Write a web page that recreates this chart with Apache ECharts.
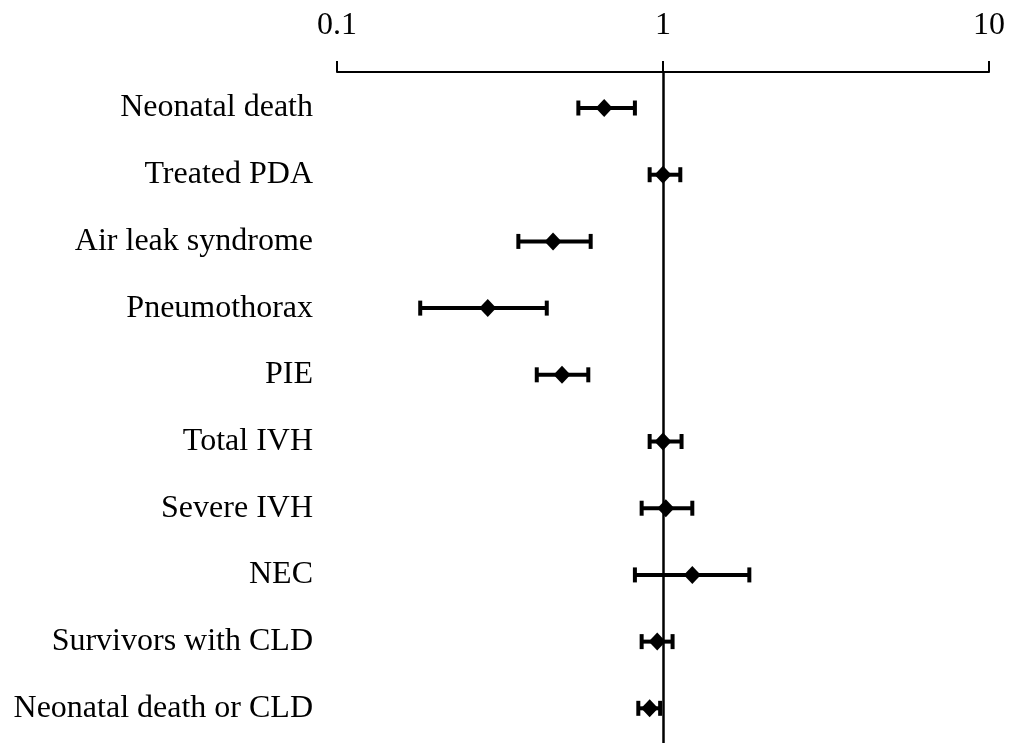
<!DOCTYPE html>
<html>
<head>
<meta charset="utf-8">
<title>Odds ratios with 95% CI</title>
<script src="https://cdn.jsdelivr.net/npm/echarts@6/dist/echarts.min.js"></script>
<style>
  html, body { margin: 0; padding: 0; background: #fff; }
  #chart { width: 1009px; height: 745px; }
</style>
</head>
<body>
<div id="chart"></div>
<script>
// Outcomes, top to bottom
const outcomes = [
  'Neonatal death',
  'Treated PDA',
  'Air leak syndrome',
  'Pneumothorax',
  'PIE',
  'Total IVH',
  'Severe IVH',
  'NEC',
  'Survivors with CLD',
  'Neonatal death or CLD'
];
// Point estimates and confidence limits (log-scaled axis)
const estimate = [0.66, 1.00, 0.46, 0.29, 0.49, 1.00, 1.02, 1.23, 0.96, 0.91];
const lower    = [0.55, 0.91, 0.36, 0.18, 0.41, 0.91, 0.86, 0.82, 0.86, 0.84];
const upper    = [0.82, 1.13, 0.60, 0.44, 0.59, 1.14, 1.23, 1.84, 1.07, 0.98];
const xTicks   = [0.1, 1, 10];

const serif = 'Liberation Serif, "Times New Roman", serif';

const intervals = outcomes.map((_, i) => [lower[i], upper[i], i]);
const points = outcomes.map((_, i) => [estimate[i], i]);

const chart = echarts.init(document.getElementById('chart'), null, { renderer: 'canvas' });

chart.setOption({
  animation: false,
  backgroundColor: '#fff',
  grid: { left: 337, right: 20, top: 72, bottom: 2, containLabel: false },
  xAxis: {
    type: 'log',
    logBase: 10,
    min: xTicks[0],
    max: xTicks[xTicks.length - 1],
    position: 'top',
    axisLine: { show: true, onZero: false, lineStyle: { color: '#000', width: 2 } },
    axisTick: { show: true, inside: false, length: 11, lineStyle: { color: '#000', width: 2 } },
    axisLabel: {
      color: '#000',
      fontFamily: serif,
      fontSize: 32,
      margin: 30,
      formatter: v => String(+(+v).toPrecision(3))
    },
    splitLine: { show: false },
    minorTick: { show: false }
  },
  yAxis: {
    type: 'value',
    inverse: true,
    min: -0.54,
    max: 9.52,
    axisLine: { show: false },
    axisTick: { show: false },
    splitLine: { show: false },
    axisLabel: {
      customValues: outcomes.map((_, i) => i),
      formatter: v => outcomes[Math.round(v)] || '',
      color: '#000',
      fontFamily: serif,
      fontSize: 32,
      margin: 24
    }
  },
  series: [
    {
      type: 'custom',
      data: intervals,
      encode: { x: [0, 1], y: 2 },
      silent: true,
      renderItem(params, api) {
        const a = api.coord([api.value(0), api.value(2)]);
        const b = api.coord([api.value(1), api.value(2)]);
        const half = 7.5;
        const style = { stroke: '#000', lineWidth: 4, fill: null };
        return {
          type: 'group',
          children: [
            { type: 'line', shape: { x1: a[0], y1: a[1], x2: b[0], y2: b[1] }, style },
            { type: 'line', shape: { x1: a[0], y1: a[1] - half, x2: a[0], y2: a[1] + half }, style },
            { type: 'line', shape: { x1: b[0], y1: b[1] - half, x2: b[0], y2: b[1] + half }, style }
          ]
        };
      },
      z: 3
    },
    {
      type: 'scatter',
      data: points,
      symbol: 'diamond',
      symbolSize: [17, 18],
      itemStyle: { color: '#000', opacity: 1 },
      silent: true,
      z: 4,
      markLine: {
        silent: true,
        symbol: 'none',
        label: { show: false },
        lineStyle: { color: '#000', width: 2.5, type: 'solid', opacity: 1 },
        data: [{ xAxis: 1 }]
      }
    }
  ]
});
</script>
</body>
</html>
